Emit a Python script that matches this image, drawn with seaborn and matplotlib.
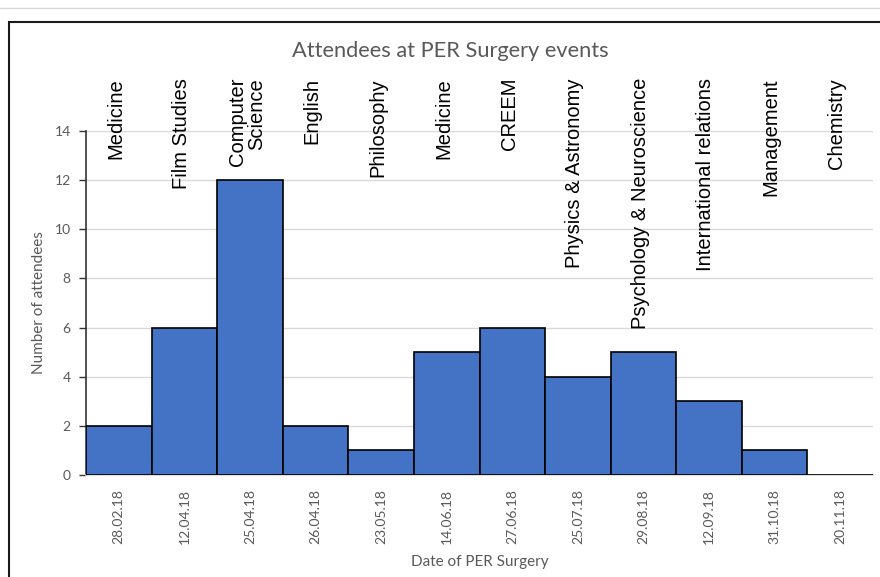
import matplotlib
matplotlib.use("Agg")
import matplotlib.pyplot as plt
from matplotlib.patches import Rectangle
from matplotlib.lines import Line2D
import seaborn as sns
import pandas as pd

# Event dates, departments and attendance
dates = ["28.02.18", "12.04.18", "25.04.18", "26.04.18", "23.05.18", "14.06.18",
         "27.06.18", "25.07.18", "29.08.18", "12.09.18", "31.10.18", "20.11.18"]
departments = ["Medicine", "Film Studies", "Computer\nScience", "English", "Philosophy",
               "Medicine", "CREEM", "Physics & Astronomy", "Psychology & Neuroscience",
               "International relations", "Management", "Chemistry"]
attendees = [2, 6, 12, 2, 1, 5, 6, 4, 5, 3, 1, 0]
y_ticks = [0, 2, 4, 6, 8, 10, 12, 14]

df = pd.DataFrame({"date": dates, "attendees": attendees})

sns.set_theme(style="white")
plt.rcParams["font.family"] = ["Lato", "DejaVu Sans"]

W, H = 880, 577
fig = plt.figure(figsize=(W / 100, H / 100), dpi=100)
ax = fig.add_axes([86 / W, 1 - 475 / H, (873 - 86) / W, (475 - 131) / H])

sns.barplot(data=df, x="date", y="attendees", order=dates, color="#4472C4",
            saturation=1, width=1.0, edgecolor="black", linewidth=1.2, ax=ax, zorder=3)

ax.set_xlim(-0.5, len(dates) - 0.5)
ax.set_ylim(0, 14)
ax.set_yticks(y_ticks)
ax.grid(axis="y", color="#d9d9d9", linewidth=1, zorder=0)
ax.set_axisbelow(True)

grey = "#595959"
for side in ["top", "right"]:
    ax.spines[side].set_visible(False)
ax.spines["left"].set_color("#333333")
ax.spines["left"].set_linewidth(1.2)
ax.spines["bottom"].set_color("#d9d9d9")
ax.spines["bottom"].set_linewidth(1.2)

ax.tick_params(axis="y", which="major", direction="out", length=5, width=1,
               color="#333333", labelsize=10, labelcolor=grey, pad=6, left=True)
ax.tick_params(axis="x", length=0, labelsize=10, labelcolor=grey, pad=10)
plt.setp(ax.get_xticklabels(), rotation=90)

ax.set_xlabel("Date of PER Surgery", fontsize=11, color=grey, labelpad=8)
ax.set_ylabel("Number of attendees", fontsize=11, color=grey, labelpad=6)

fig.text(450 / W, 1 - 51 / H, "Attendees at PER Surgery events", ha="center",
         va="center", fontsize=15.7, color=grey)

# Department names above each bar
for i, name in enumerate(departments):
    ax.text(i - 0.05, (475 - 78) / (475 - 131), name,
            transform=ax.get_xaxis_transform(), rotation=90, ha="center", va="top",
            multialignment="right", fontsize=14.5, color="black",
            family="Liberation Sans", clip_on=False, linespacing=1.0)

# Chart frame and top separator line
fig.add_artist(Rectangle((9 / W, -0.1), 1.0, 1 - 22 / H + 0.1, transform=fig.transFigure,
                         fill=False, edgecolor="#1a1a1a", linewidth=1.5))
fig.add_artist(Line2D([0, 1], [1 - 8 / H, 1 - 8 / H], transform=fig.transFigure,
                      color="#d9d9d9", linewidth=1))

fig.savefig("out.png", dpi=100)
